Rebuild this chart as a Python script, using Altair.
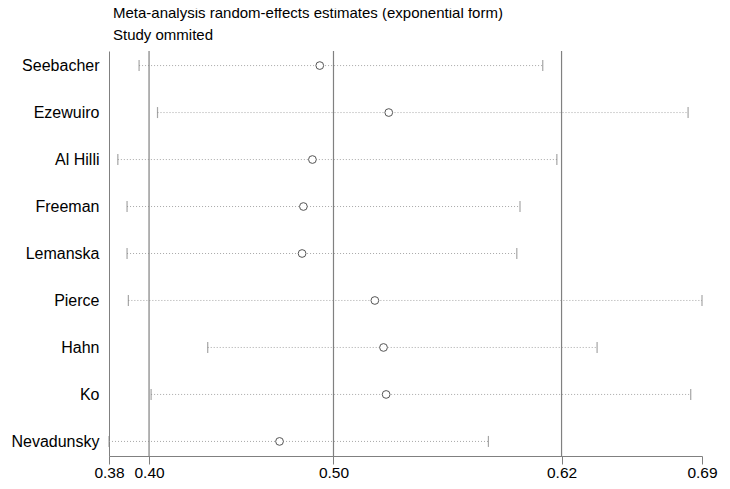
import altair as alt
import pandas as pd

studies = ["Seebacher", "Ezewuiro", "Al Hilli", "Freeman", "Lemanska",
           "Pierce", "Hahn", "Ko", "Nevadunsky"]
estimate = [0.4913, 0.5280, 0.4874, 0.4826, 0.4819, 0.5206, 0.5252, 0.5266, 0.4699]
lower = [0.3952, 0.4050, 0.3839, 0.3888, 0.3888, 0.3895, 0.4317, 0.4016, 0.3792]
upper = [0.6099, 0.6872, 0.6174, 0.5978, 0.5961, 0.6946, 0.6388, 0.6886, 0.5810]

# overall estimate: lower CI, point estimate, upper CI
overall = [0.4005, 0.4986, 0.6199]
axis_min, axis_max = 0.3792, 0.6946
tick_values = [axis_min] + overall + [axis_max]

df = pd.DataFrame({"study": studies, "est": estimate, "lo": lower, "hi": upper})
ref = pd.DataFrame({"v": overall})

FONT = "Liberation Sans"

xscale = alt.Scale(domain=[axis_min, axis_max], nice=False, zero=False)
yscale = alt.Scale(type="point", padding=0.31)

x_enc = alt.X("lo:Q", scale=xscale,
              axis=alt.Axis(values=tick_values, format=".2f", title=None,
                            grid=False, tickSize=8, labelFontSize=15.5,
                            labelFont=FONT, labelColor="#000", labelPadding=1,
                            domainColor="#808080", tickColor="#808080",
                            labelFlush=False, labelOverlap=False))
y_enc = alt.Y("study:N", sort=studies, scale=yscale,
              axis=alt.Axis(title=None, ticks=False, labelFontSize=16,
                            labelFont=FONT, labelColor="#000", labelPadding=10,
                            domainColor="#808080", grid=False))

base = alt.Chart(df)

refs = alt.Chart(ref).mark_rule(color="#808080", strokeWidth=1.2).encode(
    x=alt.X("v:Q", scale=xscale)
)

dots = base.mark_rule(color="#a8a8a8", strokeDash=[1, 2], strokeWidth=1).encode(
    x=x_enc, x2="hi:Q", y=y_enc
)

cap_lo = base.mark_tick(color="#808080", size=11, thickness=1.2).encode(
    x=alt.X("lo:Q", scale=xscale), y=alt.Y("study:N", sort=studies, scale=yscale)
)
cap_hi = base.mark_tick(color="#808080", size=11, thickness=1.2).encode(
    x=alt.X("hi:Q", scale=xscale), y=alt.Y("study:N", sort=studies, scale=yscale)
)
pts = base.mark_point(filled=False, color="#555", size=60, strokeWidth=1,
                      fill="white", fillOpacity=1).encode(
    x=alt.X("est:Q", scale=xscale), y=alt.Y("study:N", sort=studies, scale=yscale)
)

chart = alt.layer(dots, refs, cap_lo, cap_hi, pts).properties(
    width=593, height=405,
    background="white",
    autosize=alt.AutoSizeParams(type="none"),
    padding={"left": 101, "top": 43, "right": 20, "bottom": 30},
    title=alt.TitleParams(
        text=["Meta-analysis random-effects estimates (exponential form)",
              "Study ommited"],
        anchor="start", fontSize=15, font=FONT, fontWeight="normal",
        color="#000", lineHeight=22, offset=7, dx=4, frame="group"),
).configure_view(stroke=None)

chart.save("out.html", embed_options={"renderer": "svg", "actions": False})
